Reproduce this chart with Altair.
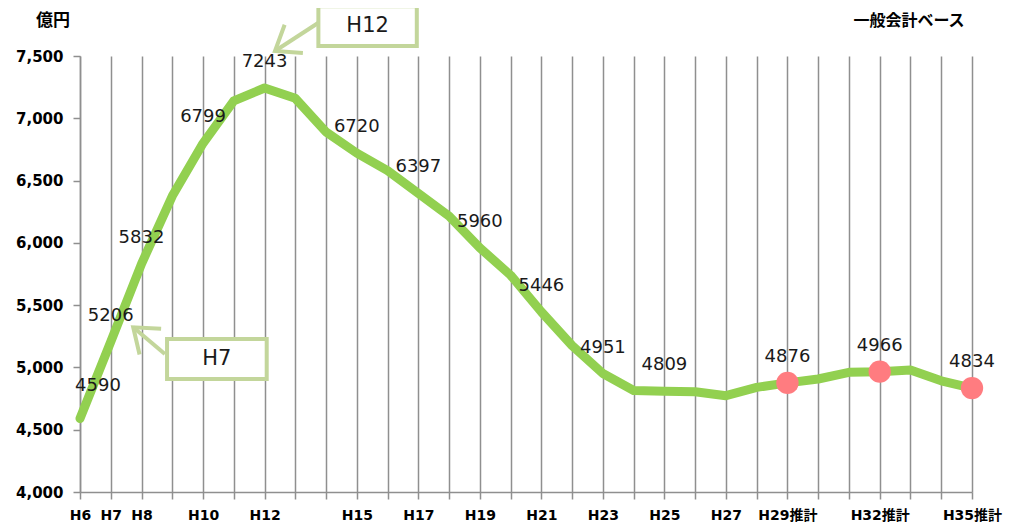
import altair as alt
import pandas as pd

# ---- data ----
categories = ["H6", "H7", "H8", "H9", "H10", "H11", "H12", "H13", "H14", "H15",
              "H16", "H17", "H18", "H19", "H20", "H21", "H22", "H23", "H24", "H25",
              "H26", "H27", "H28", "H29推計", "H30", "H31", "H32推計", "H33", "H34", "H35推計"]
tick_labels = ["H6", "H7", "H8", "", "H10", "", "H12", "", "", "H15",
               "", "H17", "", "H19", "", "H21", "", "H23", "", "H25",
               "", "H27", "", "H29推計", "", "", "H32推計", "", "", "H35推計"]
values = [4590, 5206, 5832, 6376, 6799, 7139, 7243, 7160, 6890, 6720,
          6580, 6397, 6215, 5960, 5740, 5446, 5175, 4951, 4815, 4809,
          4805, 4773, 4840, 4876, 4907, 4961, 4966, 4979, 4893, 4834]
labelled = ["H6", "H7", "H8", "H10", "H12", "H15", "H17", "H19", "H21", "H23",
            "H25", "H29推計", "H32推計", "H35推計"]
estimate_points = ["H29推計", "H32推計", "H35推計"]

y_ticks = [4000, 4500, 5000, 5500, 6000, 6500, 7000, 7500]
y_tick_labels = ["4,000", "4,500", "5,000", "5,500", "6,000", "6,500", "7,000", "7,500"]

unit_text = "億円"
basis_text = "一般会計ベース"

df = pd.DataFrame({"idx": list(range(len(categories))), "cat": categories, "value": values})
df["label"] = [str(v) if c in labelled else "" for c, v in zip(categories, values)]
df_lab = df[df["label"] != ""]
df_pts = df[df["cat"].isin(estimate_points)]

GREEN = "#92d050"
PINK = "#ff7c80"
CALLOUT = "#c3d69b"
GRID = "#8f8f8f"
FONT = "DejaVu Sans, Noto Sans CJK JP, sans-serif"
CJK = "Noto Sans CJK JP, sans-serif"

x_label_expr = "[" + ",".join("'" + t + "'" for t in tick_labels) + "][round(datum.value)]"
y_label_expr = ("[" + ",".join("'" + t + "'" for t in y_tick_labels) + "]"
                f"[round((datum.value - {y_ticks[0]}) / {y_ticks[1] - y_ticks[0]})]")

x_scale = alt.Scale(domain=[0, len(categories) - 1], nice=False, zero=False)
y_scale = alt.Scale(domain=[y_ticks[0], y_ticks[-1]], nice=False, zero=False)
x_axis = alt.Axis(values=list(range(len(categories))), labelExpr=x_label_expr,
                  title=None, grid=True, gridColor=GRID, gridWidth=1.5,
                  domainColor=GRID, domainWidth=1.5, tickColor=GRID, tickWidth=1.5,
                  tickSize=7, labelFont=FONT, labelFontSize=14, labelFontWeight="bold",
                  labelColor="#000000", labelPadding=9, labelOverlap=False,
                  labelFlush=False, labelBound=False)
y_axis = alt.Axis(values=y_ticks, labelExpr=y_label_expr, title=None, grid=False,
                  domainColor=GRID, domainWidth=1.5, tickColor=GRID, tickWidth=1.5,
                  tickSize=7, labelFont=FONT, labelFontSize=15, labelFontWeight="bold",
                  labelColor="#000000", labelPadding=10, labelOverlap=False)


def X(field="idx"):
    return alt.X(f"{field}:Q", scale=x_scale, axis=x_axis)


def Y(field="value"):
    return alt.Y(f"{field}:Q", scale=y_scale, axis=y_axis)


line = alt.Chart(df).mark_line(color=GREEN, strokeWidth=9, strokeCap="round",
                               strokeJoin="round").encode(x=X(), y=Y())

pts = alt.Chart(df_pts).mark_circle(color=PINK, opacity=1, size=500).encode(x=X(), y=Y())

labels = alt.Chart(df_lab[df_lab["idx"] > 0]).mark_text(
    font=FONT, fontSize=18, color="#1a1a1a", dy=-26).encode(
    x=X(), y=Y(), text="label:N")
label_first = alt.Chart(df_lab[df_lab["idx"] == 0]).mark_text(
    font=FONT, fontSize=18, color="#1a1a1a", dy=-33, dx=18).encode(
    x=X(), y=Y(), text="label:N")

# ---- callouts (data-space anchors) ----
boxes = pd.DataFrame({
    "idx": [7.75, 2.83], "idx2": [10.95, 6.07],
    "value": [7900, 5228], "value2": [7580, 4907],
    "tx": [9.35, 4.45], "ty": [7740, 5068],
    "text": ["H12", "H7"],
})
arrows = pd.DataFrame({
    "idx": [7.74, 2.76], "value": [7765, 5108],
    "idx2": [6.34, 1.73], "value2": [7540, 5322],
    "angle": [147, 220],
})
box_rect = alt.Chart(boxes).mark_rect(fill="white", stroke=CALLOUT, strokeWidth=4).encode(
    x=X(), x2="idx2", y=Y(), y2="value2")
box_text = alt.Chart(boxes).mark_text(font=FONT, fontSize=21, color="#1a1a1a").encode(
    x=X("tx"), y=Y("ty"), text="text:N")
arrow_line = alt.Chart(arrows).mark_rule(color=CALLOUT, strokeWidth=4).encode(
    x=X(), y=Y(), x2="idx2", y2="value2")
arrow_head = alt.Chart(arrows).mark_point(
    shape="M -1 -0.75 L 0 0 L -1 0.75", filled=False, stroke=CALLOUT, strokeWidth=4,
    size=2000, opacity=1, strokeJoin="miter").encode(
    x=X("idx2"), y=Y("value2"), angle=alt.Angle("angle:Q", scale=None))

unit = alt.Chart(pd.DataFrame({"t": [unit_text]})).mark_text(
    font=CJK, fontSize=17, fontWeight="bold", color="#000").encode(
    x=alt.value(-27), y=alt.value(-35), text="t:N")
basis = alt.Chart(pd.DataFrame({"t": [basis_text]})).mark_text(
    font=CJK, fontSize=16, fontWeight="bold", color="#000").encode(
    x=alt.value(829), y=alt.value(-35), text="t:N")

chart = alt.layer(line, pts, labels, label_first, arrow_line, arrow_head, box_rect, box_text,
                  unit, basis).properties(
    width=892, height=436,
    autosize=alt.AutoSizeParams(type="none"),
    padding={"left": 72, "top": 48, "right": 40, "bottom": 31},
    background="white",
).configure_view(stroke=None)

chart.save("out.html", embed_options={"renderer": "svg", "actions": False})
